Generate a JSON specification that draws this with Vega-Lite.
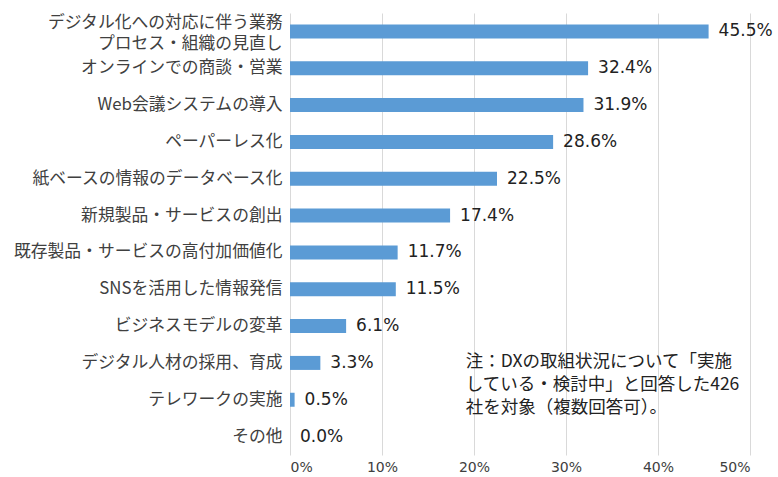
{
  "$schema": "https://vega.github.io/schema/vega-lite/v6.json",
  "width": 460,
  "height": 442,
  "autosize": {"type": "none"},
  "padding": {"left": 290, "top": 13, "right": 28, "bottom": 22},
  "background": "white",
  "config": {"view": {"stroke": null}, "font": "Noto Sans CJK JP"},
  "data": {"values": [
    {"item": "デジタル化への対応に伴う業務\nプロセス・組織の見直し", "value": 45.5},
    {"item": "オンラインでの商談・営業", "value": 32.4},
    {"item": "Web会議システムの導入", "value": 31.9},
    {"item": "ペーパーレス化", "value": 28.6},
    {"item": "紙ベースの情報のデータベース化", "value": 22.5},
    {"item": "新規製品・サービスの創出", "value": 17.4},
    {"item": "既存製品・サービスの高付加価値化", "value": 11.7},
    {"item": "SNSを活用した情報発信", "value": 11.5},
    {"item": "ビジネスモデルの変革", "value": 6.1},
    {"item": "デジタル人材の採用、育成", "value": 3.3},
    {"item": "テレワークの実施", "value": 0.5},
    {"item": "その他", "value": 0.0}
  ]},
  "transform": [{"calculate": "format(datum.value, '.1f') + '%'", "as": "label"}],
  "encoding": {
    "y": {"field": "item", "type": "nominal", "sort": null,
      "scale": {"paddingInner": 0.62, "paddingOuter": 0.31},
      "axis": {"title": null, "domain": false, "ticks": false, "labelFontSize": 16.8, "labelColor": "#404040", "labelPadding": 8, "labelLimit": 300, "labelExpr": "split(datum.label, '\\n')", "labelLineHeight": 21,
        "labelOffset": {"condition": {"test": "indexof(datum.value, '\\n') >= 0", "value": -8}, "value": 0}}},
    "x": {"field": "value", "type": "quantitative",
      "scale": {"domain": [0, 50]},
      "axis": {"title": null, "values": [0,10,20,30,40,50], "labelExpr": "datum.value + '%'", "domain": false, "ticks": false, "grid": true, "gridColor": "#d9d9d9", "labelFont": "DejaVu Sans", "labelFontSize": 14, "labelColor": "#404040", "labelPadding": 5}}
  },
  "layer": [
    {"mark": {"type": "bar", "color": "#5b9bd5"}},
    {"mark": {"type": "text", "align": "left", "dx": 10, "fontSize": 17, "font": "DejaVu Sans", "color": "#222222"},
     "encoding": {"text": {"field": "label", "type": "nominal"}}},
    {"data": {"values": [{"note": "注：DXの取組状況について「実施\nしている・検討中」と回答した426\n社を対象（複数回答可）。", "x": 19.1, "y": "デジタル人材の採用、育成"}]},
     "transform": [],
     "mark": {"type": "text", "align": "left", "baseline": "middle", "dy": -1, "fontSize": 17.5, "lineHeight": 23, "lineBreak": "\n", "color": "#222222"},
     "encoding": {"x": {"field": "x", "type": "quantitative"}, "y": {"field": "y", "type": "nominal", "sort": null}, "text": {"field": "note"}}}
  ]
}
